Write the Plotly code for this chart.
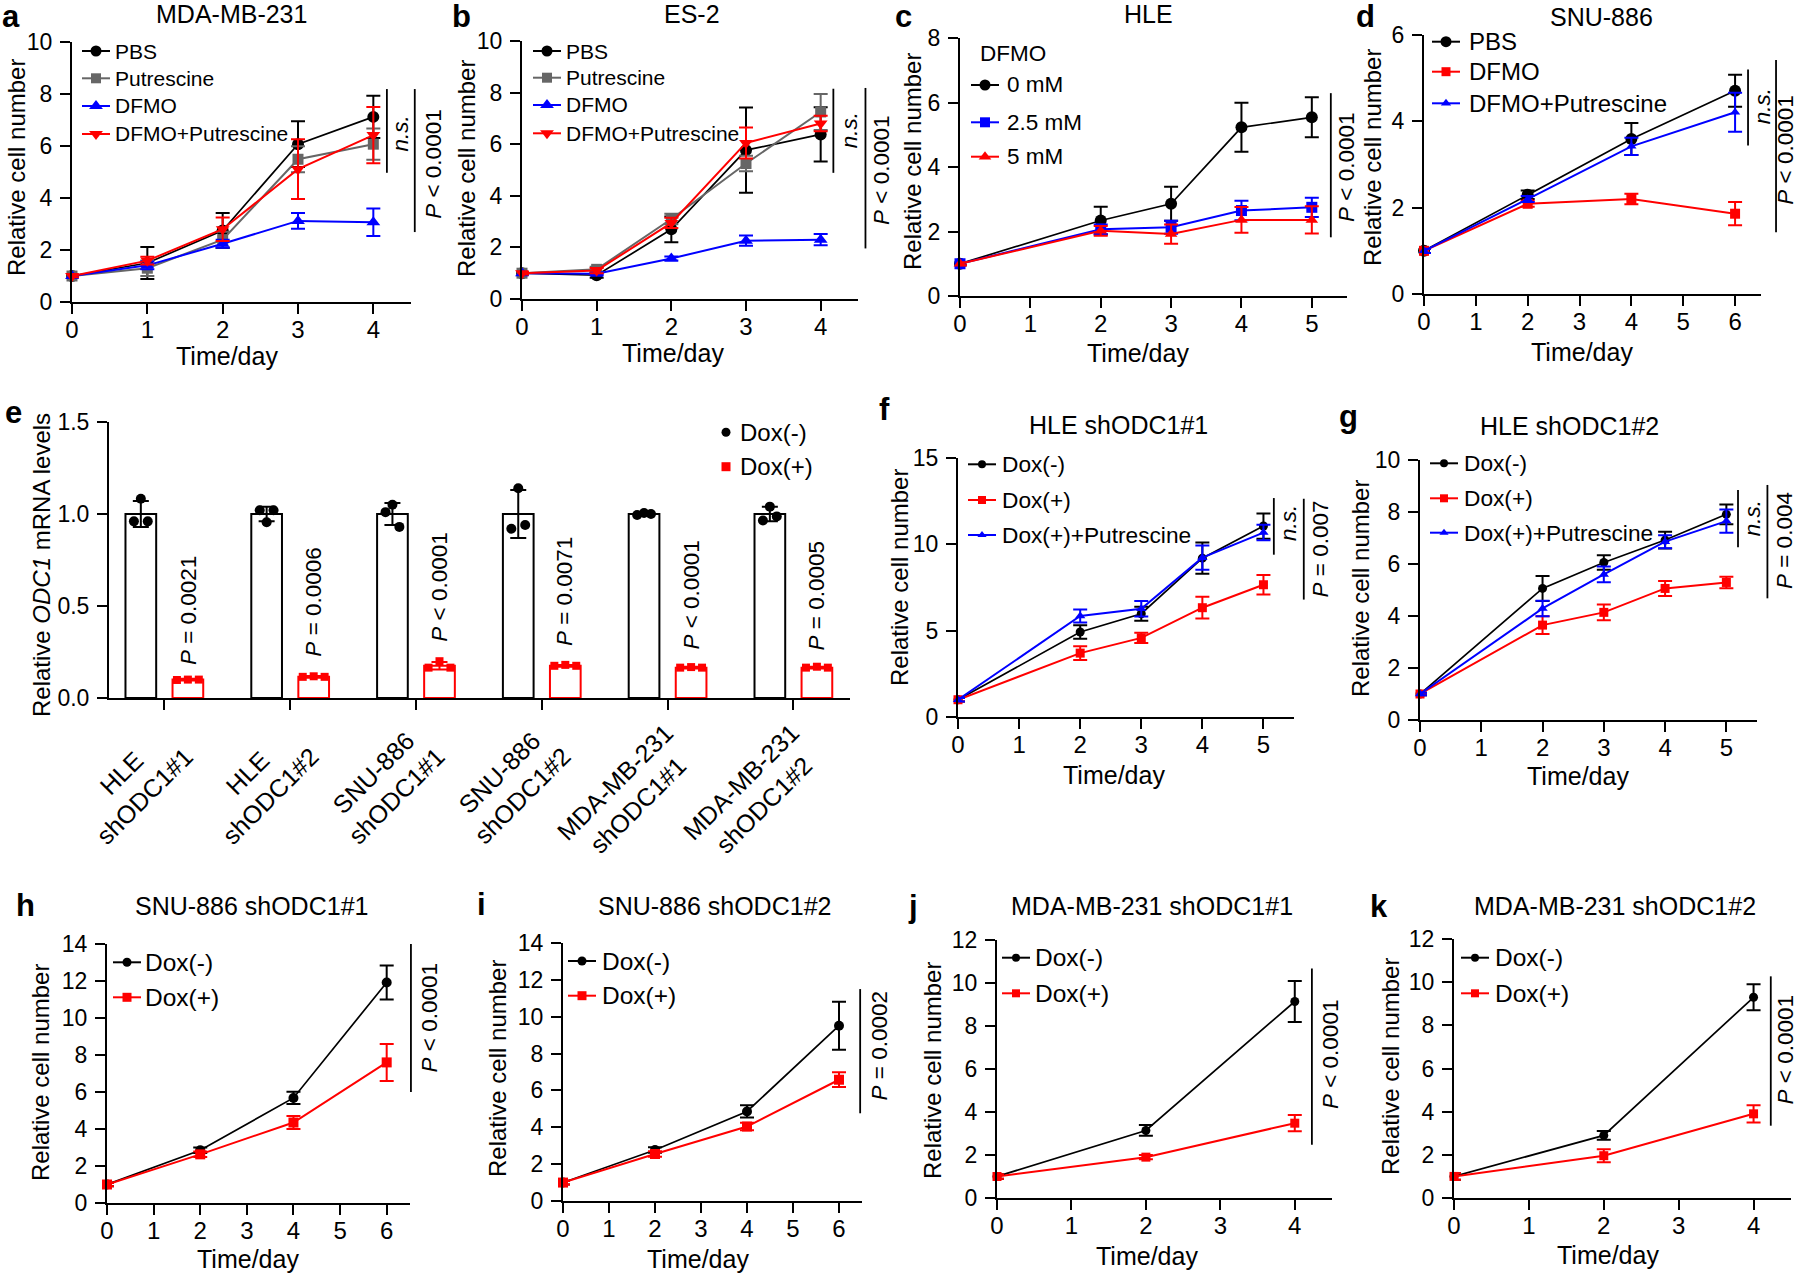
import math
import plotly.graph_objects as go

W, H = 1800, 1278
FONT = "Arial, 'Liberation Sans', sans-serif"
BLACK = "#000000"
GRAY = "#666666"
BLUE = "#0000ff"
RED = "#ff0000"

# ---------------- data ----------------
# a: MDA-MB-231
A_DAYS = [0, 1, 2, 3, 4]
A_PBS = [1.0, 1.5, 2.75, 6.07, 7.12]
A_PBS_SD = [0.05, 0.62, 0.67, 0.88, 0.81]
A_PUT = [1.0, 1.3, 2.4, 5.49, 6.07]
A_PUT_SD = [0.05, 0.3, 0.3, 0.5, 0.6]
A_DFMO = [1.0, 1.41, 2.24, 3.12, 3.07]
A_DFMO_SD = [0.05, 0.15, 0.15, 0.3, 0.53]
A_DP = [1.0, 1.59, 2.8, 5.11, 6.42]
A_DP_SD = [0.05, 0.15, 0.45, 1.15, 1.08]

# b: ES-2
B_DAYS = [0, 1, 2, 3, 4]
B_PBS = [1.0, 0.92, 2.7, 5.77, 6.38]
B_PBS_SD = [0.05, 0.1, 0.5, 1.65, 1.05]
B_PUT = [1.0, 1.15, 3.1, 5.25, 7.25]
B_PUT_SD = [0.05, 0.1, 0.2, 0.3, 0.7]
B_DFMO = [1.0, 0.98, 1.57, 2.26, 2.3]
B_DFMO_SD = [0.05, 0.05, 0.08, 0.2, 0.22]
B_DP = [1.0, 1.1, 2.95, 6.05, 6.8]
B_DP_SD = [0.05, 0.1, 0.2, 0.6, 0.3]

# c: HLE (DFMO dose)
C_DAYS = [0, 2, 3, 4, 5]
C_0 = [1.0, 2.34, 2.86, 5.23, 5.54]
C_0_SD = [0.05, 0.43, 0.53, 0.76, 0.62]
C_25 = [1.0, 2.07, 2.13, 2.65, 2.75]
C_25_SD = [0.05, 0.15, 0.2, 0.3, 0.3]
C_5 = [1.0, 2.02, 1.92, 2.36, 2.36]
C_5_SD = [0.05, 0.15, 0.3, 0.4, 0.42]

# d: SNU-886
D_DAYS = [0, 2, 4, 6]
D_PBS = [1.0, 2.3, 3.59, 4.71]
D_PBS_SD = [0.05, 0.1, 0.37, 0.37]
D_DFMO = [1.0, 2.09, 2.2, 1.86]
D_DFMO_SD = [0.05, 0.07, 0.12, 0.27]
D_DP = [1.0, 2.2, 3.42, 4.21]
D_DP_SD = [0.05, 0.07, 0.2, 0.45]

# e: ODC1 mRNA
E_CATS = ["HLE<br>shODC1#1", "HLE<br>shODC1#2", "SNU-886<br>shODC1#1",
          "SNU-886<br>shODC1#2", "MDA-MB-231<br>shODC1#1", "MDA-MB-231<br>shODC1#2"]
E_NEG_MEAN = [1.0, 1.0, 1.0, 1.0, 1.0, 1.0]
E_NEG_SD = [0.07, 0.04, 0.06, 0.13, 0.01, 0.04]
E_POS_MEAN = [0.10, 0.115, 0.175, 0.175, 0.165, 0.165]
E_POS_SD = [0.005, 0.005, 0.02, 0.005, 0.005, 0.005]
E_NEG_PTS = [[0.96, 1.083, 0.96], [1.02, 0.955, 1.02], [1.01, 1.05, 0.93],
             [0.92, 1.14, 0.94], [0.995, 1.005, 1.0], [0.965, 1.04, 0.987]]
E_POS_PTS = [[0.098, 0.1, 0.1], [0.115, 0.118, 0.115], [0.165, 0.2, 0.165],
             [0.175, 0.18, 0.175], [0.165, 0.168, 0.165], [0.165, 0.17, 0.165]]
E_PVALS = ["<i>P</i> = 0.0021", "<i>P</i> = 0.0006", "<i>P</i> &lt; 0.0001",
           "<i>P</i> = 0.0071", "<i>P</i> &lt; 0.0001", "<i>P</i> = 0.0005"]

# f: HLE shODC1#1
F_DAYS = [0, 2, 3, 4, 5]
F_NEG = [1.0, 4.92, 5.98, 9.2, 11.06]
F_NEG_SD = [0.1, 0.39, 0.4, 0.9, 0.73]
F_POS = [1.0, 3.7, 4.58, 6.33, 7.66]
F_POS_SD = [0.1, 0.4, 0.3, 0.63, 0.56]
F_PUT = [1.0, 5.85, 6.27, 9.23, 10.68]
F_PUT_SD = [0.1, 0.37, 0.45, 0.7, 0.45]

# g: HLE shODC1#2
G_DAYS = [0, 2, 3, 4, 5]
G_NEG = [1.0, 5.06, 6.06, 6.92, 7.91]
G_NEG_SD = [0.05, 0.48, 0.28, 0.32, 0.38]
G_POS = [1.0, 3.65, 4.14, 5.06, 5.29]
G_POS_SD = [0.05, 0.34, 0.3, 0.29, 0.22]
G_PUT = [1.0, 4.29, 5.6, 6.86, 7.65]
G_PUT_SD = [0.05, 0.3, 0.3, 0.25, 0.45]

# h: SNU-886 shODC1#1
H_DAYS = [0, 2, 4, 6]
H_NEG = [1.0, 2.85, 5.68, 11.92]
H_NEG_SD = [0.1, 0.15, 0.33, 0.92]
H_POS = [1.0, 2.63, 4.35, 7.6]
H_POS_SD = [0.1, 0.15, 0.35, 1.0]

# i: SNU-886 shODC1#2
I_DAYS = [0, 2, 4, 6]
I_NEG = [1.0, 2.77, 4.86, 9.51]
I_NEG_SD = [0.1, 0.15, 0.33, 1.3]
I_POS = [1.0, 2.55, 4.04, 6.58]
I_POS_SD = [0.1, 0.15, 0.2, 0.4]

# j: MDA-MB-231 shODC1#1
J_DAYS = [0, 2, 4]
J_NEG = [1.0, 3.14, 9.14]
J_NEG_SD = [0.1, 0.25, 0.95]
J_POS = [1.0, 1.9, 3.48]
J_POS_SD = [0.1, 0.1, 0.38]

# k: MDA-MB-231 shODC1#2
K_DAYS = [0, 2, 4]
K_NEG = [1.0, 2.9, 9.3]
K_NEG_SD = [0.15, 0.2, 0.6]
K_POS = [1.0, 1.96, 3.9]
K_POS_SD = [0.15, 0.3, 0.4]

# ---------------- helpers ----------------
fig = go.Figure()
layout = {}
ann = []
shp = []
AX = {}


def ref(n):
    return "" if n == 1 else str(n)


def PX(x):
    return x / W


def PY(y):
    return 1 - y / H


def add_axes(n, box, xr, yr, xtickvals, ydtick, yfmt=None, xlabels=True):
    L, R, T, B = box
    s = ref(n)
    common = dict(showline=True, linewidth=2, linecolor=BLACK, ticks="outside",
                  ticklen=10, tickwidth=2, tickcolor=BLACK, showgrid=False,
                  zeroline=False, fixedrange=True, automargin=False)
    layout["xaxis" + s] = dict(domain=[L / W, R / W], range=xr, anchor="y" + s,
                               tickmode="array", tickvals=xtickvals,
                               showticklabels=xlabels, ticklabelstandoff=-5,
                               tickfont=dict(size=24, family=FONT, color=BLACK), **common)
    ya = dict(domain=[1 - B / H, 1 - T / H], range=yr, anchor="x" + s,
              tickmode="linear", tick0=0, dtick=ydtick, ticklabelstandoff=3,
              tickfont=dict(size=23, family=FONT, color=BLACK), **common)
    if yfmt:
        ya["tickformat"] = yfmt
    layout["yaxis" + s] = ya
    AX[n] = (xr, yr)


def text_px(x, y, t, size=25, angle=0, xanchor="center"):
    ann.append(dict(x=PX(x), y=PY(y), xref="paper", yref="paper", text=t,
                    showarrow=False, xanchor=xanchor, yanchor="middle",
                    textangle=angle, font=dict(size=size, family=FONT, color=BLACK)))


def panel_text(label, lx, ly, title, tx, ty, ylab, yx, yy, xx, xy):
    text_px(lx, ly, "<b>%s</b>" % label, size=31)
    if title:
        text_px(tx, ty, title, size=25)
    text_px(yx, yy, ylab, size=24, angle=-90)
    text_px(xx, xy, "Time/day", size=25)


def dom(n, x, y):
    (xa, xb), (ya, yb) = AX[n]
    return (x - xa) / (xb - xa), (y - ya) / (yb - ya)


def bracket(n, x, y0, y1, tx, ty, t):
    s = ref(n)
    fx, fy0 = dom(n, x, y0)
    _, fy1 = dom(n, x, y1)
    shp.append(dict(type="line", xref="x%s domain" % s, yref="y%s domain" % s,
                    x0=fx, x1=fx, y0=fy0, y1=fy1, line=dict(color=BLACK, width=1.8)))
    gx, gy = dom(n, tx, ty)
    ann.append(dict(x=gx, y=gy, xref="x%s domain" % s, yref="y%s domain" % s, text=t,
                    showarrow=False, xanchor="center", yanchor="middle", textangle=-90,
                    font=dict(size=22.5, family=FONT, color=BLACK)))


def add_series(n, x, y, sd, name, color, symbol, msize, lw=2.0):
    s = ref(n)
    fig.add_trace(go.Scatter(
        x=x, y=y, name=name, mode="lines+markers", xaxis="x" + s, yaxis="y" + s,
        line=dict(color=color, width=lw),
        marker=dict(symbol=symbol, size=msize, color=color),
        error_y=dict(type="data", array=sd, visible=True, color=color, thickness=2, width=7),
        cliponaxis=False, showlegend=False))


def sym_shape(cx, cy, symbol, size, color):
    r = size / 2.0
    if symbol == "circle":
        shp.append(dict(type="circle", xref="paper", yref="paper", x0=PX(cx - r), x1=PX(cx + r),
                        y0=PY(cy + r), y1=PY(cy - r), fillcolor=color, line=dict(width=0)))
    elif symbol == "square":
        shp.append(dict(type="rect", xref="paper", yref="paper", x0=PX(cx - r), x1=PX(cx + r),
                        y0=PY(cy + r), y1=PY(cy - r), fillcolor=color, line=dict(width=0)))
    else:
        rt = r * 2 / math.sqrt(3)
        sgn = 1 if symbol == "triangle-up" else -1
        pts = [(cx - rt, cy + sgn * r / 2), (cx + rt, cy + sgn * r / 2), (cx, cy - sgn * r)]
        path = "M" + " L".join("%.6f,%.6f" % (PX(a), PY(b)) for a, b in pts) + " Z"
        shp.append(dict(type="path", xref="paper", yref="paper", path=path,
                        fillcolor=color, line=dict(width=0)))


def legend(items, xs, xt, ys, fsize, line=True, llen=28):
    for (name, color, symbol, msize), y in zip(items, ys):
        if line:
            shp.append(dict(type="line", xref="paper", yref="paper", x0=PX(xs), x1=PX(xs + llen),
                            y0=PY(y), y1=PY(y), line=dict(color=color, width=2)))
            sym_shape(xs + llen / 2.0, y, symbol, msize, color)
        else:
            sym_shape(xs, y, symbol, msize, color)
        text_px(xt - 2, y, name, size=fsize, xanchor="left")


NS = "<i>n.s.</i>"
PLT = "<i>P</i> &lt; 0.0001"
RCN = "Relative cell number"

# ---------------- panel a ----------------
add_axes(1, (72, 411, 42, 302), [0, 4.5], [0, 10], A_DAYS, 2)
add_series(1, A_DAYS, A_PBS, A_PBS_SD, "PBS", BLACK, "circle", 12, 1.7)
add_series(1, A_DAYS, A_PUT, A_PUT_SD, "Putrescine", GRAY, "square", 11)
add_series(1, A_DAYS, A_DFMO, A_DFMO_SD, "DFMO", BLUE, "triangle-up", 12)
add_series(1, A_DAYS, A_DP, A_DP_SD, "DFMO+Putrescine", RED, "triangle-down", 12)
legend([("PBS", BLACK, "circle", 11), ("Putrescine", GRAY, "square", 10),
        ("DFMO", BLUE, "triangle-up", 12), ("DFMO+Putrescine", RED, "triangle-down", 12)],
       82, 115, [51, 78.3, 106, 134], 21)
bracket(1, 4.18, 4.97, 8.19, 4.36, 6.5, NS)
bracket(1, 4.55, 2.69, 8.19, 4.8, 5.3, PLT)
panel_text("a", 11, 17, "MDA-MB-231", 231, 14, RCN, 16, 168, 227, 356)

# ---------------- panel b ----------------
add_axes(2, (522, 858, 41, 299), [0, 4.5], [0, 10], B_DAYS, 2)
add_series(2, B_DAYS, B_PBS, B_PBS_SD, "PBS", BLACK, "circle", 12, 1.7)
add_series(2, B_DAYS, B_PUT, B_PUT_SD, "Putrescine", GRAY, "square", 11)
add_series(2, B_DAYS, B_DFMO, B_DFMO_SD, "DFMO", BLUE, "triangle-up", 12)
add_series(2, B_DAYS, B_DP, B_DP_SD, "DFMO+Putrescine", RED, "triangle-down", 12)
legend([("PBS", BLACK, "circle", 11), ("Putrescine", GRAY, "square", 10),
        ("DFMO", BLUE, "triangle-up", 12), ("DFMO+Putrescine", RED, "triangle-down", 12)],
       533, 566, [51, 77.7, 105, 133.3], 21)
bracket(2, 4.17, 4.89, 8.15, 4.38, 6.54, NS)
bracket(2, 4.6, 1.96, 8.18, 4.82, 5.0, PLT)
panel_text("b", 461, 17, "ES-2", 692, 14, RCN, 466, 169, 673, 353)

# ---------------- panel c ----------------
add_axes(3, (960, 1347, 38, 296), [0, 5.5], [0, 8], [0, 1, 2, 3, 4, 5], 2)
add_series(3, C_DAYS, C_0, C_0_SD, "0 mM", BLACK, "circle", 12, 1.7)
add_series(3, C_DAYS, C_25, C_25_SD, "2.5 mM", BLUE, "square", 11)
add_series(3, C_DAYS, C_5, C_5_SD, "5 mM", RED, "triangle-up", 11)
text_px(978, 53.3, "DFMO", size=22.5, xanchor="left")
legend([("0 mM", BLACK, "circle", 11), ("2.5 mM", BLUE, "square", 10),
        ("5 mM", RED, "triangle-up", 11)],
       971, 1007, [85, 122.3, 156.7], 22.5)
bracket(3, 5.27, 1.82, 6.29, 5.5, 3.97, PLT)
panel_text("c", 903, 17, "HLE", 1148, 14, RCN, 912, 162, 1138, 353)

# ---------------- panel d ----------------
add_axes(4, (1424, 1761, 35, 294), [0, 6.5], [0, 6], [0, 1, 2, 3, 4, 5, 6], 2)
add_series(4, D_DAYS, D_PBS, D_PBS_SD, "PBS", BLACK, "circle", 12, 1.7)
add_series(4, D_DAYS, D_DFMO, D_DFMO_SD, "DFMO", RED, "square", 10)
add_series(4, D_DAYS, D_DP, D_DP_SD, "DFMO+Putrescine", BLUE, "triangle-up", 9)
legend([("PBS", BLACK, "circle", 11), ("DFMO", RED, "square", 9),
        ("DFMO+Putrescine", BLUE, "triangle-up", 9)],
       1432, 1469, [41.7, 71.7, 103.3], 24)
bracket(4, 6.25, 3.44, 5.2, 6.53, 4.34, NS)
bracket(4, 6.79, 1.43, 5.42, 6.98, 3.34, PLT)
panel_text("d", 1365, 17, "SNU-886", 1601, 17, RCN, 1372, 158, 1582, 352)

# ---------------- panel e ----------------
E_IDX = list(range(len(E_CATS)))
BW = 0.244          # bar width (category units)
OFF = 0.187         # bar centre offset from category tick
JN = [-0.055, 0.0, 0.055]
JP = [-0.087, 0.0, 0.087]
add_axes(5, (109, 850, 422, 698), [-0.44, 5.45], [0, 1.5], E_IDX, 0.5, yfmt=".1f", xlabels=False)
fig.add_trace(go.Bar(x=E_IDX, y=E_NEG_MEAN, width=BW, offset=-OFF - BW / 2,
                     marker=dict(color="white", line=dict(color=BLACK, width=2)),
                     error_y=dict(type="data", array=E_NEG_SD, color=BLACK, thickness=2, width=8),
                     xaxis="x5", yaxis="y5", showlegend=False, cliponaxis=False))
fig.add_trace(go.Bar(x=E_IDX, y=E_POS_MEAN, width=BW, offset=OFF - BW / 2,
                     marker=dict(color="white", line=dict(color=RED, width=2)),
                     error_y=dict(type="data", array=E_POS_SD, color=RED, thickness=2, width=8),
                     xaxis="x5", yaxis="y5", showlegend=False, cliponaxis=False))
xn, yn, xp, yp = [], [], [], []
for i in E_IDX:
    for j in range(3):
        xn.append(i - OFF + JN[j]); yn.append(E_NEG_PTS[i][j])
        xp.append(i + OFF + JP[j]); yp.append(E_POS_PTS[i][j])
fig.add_trace(go.Scatter(x=xn, y=yn, mode="markers", name="Dox(-)", xaxis="x5", yaxis="y5",
                         marker=dict(symbol="circle", size=10, color=BLACK), cliponaxis=False,
                         showlegend=False))
fig.add_trace(go.Scatter(x=xp, y=yp, mode="markers", name="Dox(+)", xaxis="x5", yaxis="y5",
                         marker=dict(symbol="square", size=8, color=RED), cliponaxis=False,
                         showlegend=False))
legend([("Dox(-)", BLACK, "circle", 9), ("Dox(+)", RED, "square", 9)],
       726, 740, [432.3, 466.7], 24, line=False)
E_PBASE = [0.17, 0.215, 0.295, 0.27, 0.25, 0.25]
for i in E_IDX:
    ann.append(dict(x=i + OFF, y=E_PBASE[i], xref="x5", yref="y5", text=E_PVALS[i],
                    showarrow=False, xanchor="center", yanchor="bottom", textangle=-90,
                    font=dict(size=22.5, family=FONT, color=BLACK)))
    ann.append(dict(x=i, y=PY(716), xref="x5", yref="paper", text=E_CATS[i],
                    showarrow=False, xanchor="right", yanchor="top", textangle=-45,
                    xshift=37, align="center", font=dict(size=25, family=FONT, color=BLACK)))
text_px(13, 412, "<b>e</b>", size=31)
text_px(41, 565, "Relative <i>ODC1</i> mRNA levels", size=24, angle=-90)

# ---------------- panel f ----------------
add_axes(6, (958, 1294, 458, 717), [0, 5.5], [0, 15], [0, 1, 2, 3, 4, 5], 5)
add_series(6, F_DAYS, F_NEG, F_NEG_SD, "Dox(-)", BLACK, "circle", 9, 1.7)
add_series(6, F_DAYS, F_POS, F_POS_SD, "Dox(+)", RED, "square", 9)
add_series(6, F_DAYS, F_PUT, F_PUT_SD, "Dox(+)+Putrescine", BLUE, "triangle-up", 9)
legend([("Dox(-)", BLACK, "circle", 8), ("Dox(+)", RED, "square", 8),
        ("Dox(+)+Putrescine", BLUE, "triangle-up", 8)],
       968, 1002, [464.3, 500, 535], 22.7)
bracket(6, 5.17, 9.4, 12.68, 5.41, 11.2, NS)
bracket(6, 5.66, 6.8, 12.64, 5.94, 9.75, "<i>P</i> = 0.007")
panel_text("f", 884, 410, "HLE shODC1#1", 1118, 425, RCN, 899, 578, 1114, 775)

# ---------------- panel g ----------------
add_axes(7, (1420, 1757, 460, 720), [0, 5.5], [0, 10], [0, 1, 2, 3, 4, 5], 2)
add_series(7, G_DAYS, G_NEG, G_NEG_SD, "Dox(-)", BLACK, "circle", 9, 1.7)
add_series(7, G_DAYS, G_POS, G_POS_SD, "Dox(+)", RED, "square", 9)
add_series(7, G_DAYS, G_PUT, G_PUT_SD, "Dox(+)+Putrescine", BLUE, "triangle-up", 9)
legend([("Dox(-)", BLACK, "circle", 8), ("Dox(+)", RED, "square", 8),
        ("Dox(+)+Putrescine", BLUE, "triangle-up", 8)],
       1430, 1464, [463.3, 498.3, 532.7], 22.7)
bracket(7, 5.19, 6.64, 8.85, 5.42, 7.76, NS)
bracket(7, 5.67, 4.68, 9.04, 5.94, 6.92, "<i>P</i> = 0.004")
panel_text("g", 1348, 416, "HLE shODC1#2", 1569, 426, RCN, 1360, 589, 1578, 776)

# ---------------- panel h ----------------
add_axes(8, (107, 410, 944, 1203), [0, 6.5], [0, 14], [0, 1, 2, 3, 4, 5, 6], 2)
add_series(8, H_DAYS, H_NEG, H_NEG_SD, "Dox(-)", BLACK, "circle", 10, 1.7)
add_series(8, H_DAYS, H_POS, H_POS_SD, "Dox(+)", RED, "square", 10)
legend([("Dox(-)", BLACK, "circle", 9), ("Dox(+)", RED, "square", 9)],
       113, 145, [962.3, 997.3], 24.5)
bracket(8, 6.52, 6.0, 14.0, 6.91, 9.98, PLT)
panel_text("h", 25, 905, "SNU-886 shODC1#1", 251, 906, RCN, 40, 1073, 248, 1259)

# ---------------- panel i ----------------
add_axes(9, (563, 862, 943, 1201), [0, 6.5], [0, 14], [0, 1, 2, 3, 4, 5, 6], 2)
add_series(9, I_DAYS, I_NEG, I_NEG_SD, "Dox(-)", BLACK, "circle", 10, 1.7)
add_series(9, I_DAYS, I_POS, I_POS_SD, "Dox(+)", RED, "square", 10)
legend([("Dox(-)", BLACK, "circle", 9), ("Dox(+)", RED, "square", 9)],
       568, 602, [961, 995.7], 24.5)
bracket(9, 6.46, 4.76, 11.5, 6.87, 8.39, "<i>P</i> = 0.0002")
panel_text("i", 481, 904, "SNU-886 shODC1#2", 714, 906, RCN, 497, 1068, 698, 1259)

# ---------------- panel j ----------------
add_axes(10, (997, 1332, 940, 1198), [0, 4.5], [0, 12], [0, 1, 2, 3, 4], 2)
add_series(10, J_DAYS, J_NEG, J_NEG_SD, "Dox(-)", BLACK, "circle", 9, 1.7)
add_series(10, J_DAYS, J_POS, J_POS_SD, "Dox(+)", RED, "square", 9)
legend([("Dox(-)", BLACK, "circle", 8), ("Dox(+)", RED, "square", 8)],
       1002, 1035, [957.7, 993.3], 24.5)
bracket(10, 4.23, 2.48, 10.68, 4.49, 6.66, PLT)
panel_text("j", 913, 906, "MDA-MB-231 shODC1#1", 1152, 906, RCN, 932, 1071, 1147, 1256)

# ---------------- panel k ----------------
add_axes(11, (1454, 1791, 939, 1198), [0, 4.5], [0, 12], [0, 1, 2, 3, 4], 2)
add_series(11, K_DAYS, K_NEG, K_NEG_SD, "Dox(-)", BLACK, "circle", 9, 1.7)
add_series(11, K_DAYS, K_POS, K_POS_SD, "Dox(+)", RED, "square", 9)
legend([("Dox(-)", BLACK, "circle", 8), ("Dox(+)", RED, "square", 8)],
       1461, 1495, [957.7, 993.3], 24.5)
bracket(11, 4.23, 3.35, 10.27, 4.43, 6.87, PLT)
panel_text("k", 1379, 906, "MDA-MB-231 shODC1#2", 1615, 906, RCN, 1390, 1067, 1608, 1255)

fig.update_layout(
    width=W, height=H, margin=dict(l=0, r=0, t=0, b=0, pad=0, autoexpand=False),
    paper_bgcolor="white", plot_bgcolor="rgba(0,0,0,0)",
    font=dict(family=FONT, color=BLACK, size=22),
    barmode="overlay", showlegend=False, hovermode=False,
    annotations=ann, shapes=shp, **layout)

fig.write_html("out.html",
               config={"displayModeBar": False, "staticPlot": True},
               post_script="document.body.style.margin='0px';document.body.style.padding='0px';")
